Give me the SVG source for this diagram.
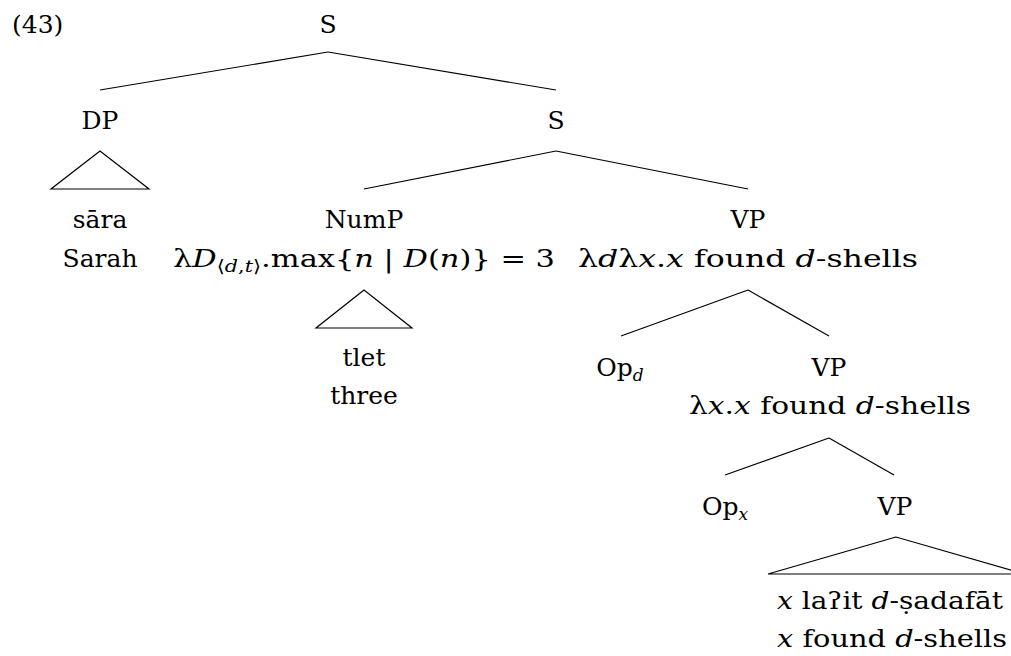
<svg xmlns="http://www.w3.org/2000/svg" width="1011" height="656" viewBox="0 0 1011 656">
<style>
text{font-family:"DejaVu Serif",serif;font-size:25px;fill:#000;text-anchor:middle}
.i{font-style:italic}
.sub{font-size:17px;font-style:italic}
.subu{font-size:17px}
.l{text-anchor:start}
line,polygon{stroke:#000;stroke-width:1.2;fill:none}
</style>
<rect width="1011" height="656" fill="#fff"/>
<g id="connectors">
<line x1="328" y1="52" x2="100" y2="90"/>
<line x1="328" y1="52" x2="556" y2="90"/>
<polygon points="100,151 51,189 149,189"/>
<line x1="556" y1="151" x2="364" y2="189"/>
<line x1="556" y1="151" x2="748" y2="189"/>
<polygon points="364,290 316,328 412,328"/>
<line x1="748" y1="290" x2="621" y2="336"/>
<line x1="748" y1="290" x2="829" y2="336"/>
<line x1="829" y1="438" x2="725" y2="475"/>
<line x1="829" y1="438" x2="894" y2="475"/>
<polygon points="896,537 768,574 1024,574"/>
</g>
<g id="ex-number"><text class="l" x="12" y="33">(43)</text></g>
<g id="node-S-root"><text x="328" y="33">S</text></g>
<g id="node-DP"><text x="100" y="129">DP</text></g>
<g id="node-sara"><text x="100" y="228">sāra</text><text x="100" y="267">Sarah</text></g>
<g id="node-S"><text x="556" y="129">S</text></g>
<g id="node-NumP"><text x="364" y="228">NumP</text>
<text x="364" y="267" textLength="382" lengthAdjust="spacingAndGlyphs">λ<tspan class="i">D</tspan><tspan class="subu" dy="5">⟨<tspan class="i">d</tspan>,<tspan class="i">t</tspan>⟩</tspan><tspan dy="-5">.max{</tspan><tspan class="i">n</tspan> | <tspan class="i">D</tspan>(<tspan class="i">n</tspan>)} = 3</text></g>
<g id="node-tlet"><text x="364" y="366">tlet</text><text x="364" y="404">three</text></g>
<g id="node-VP1"><text x="748" y="228">VP</text>
<text x="748" y="267" textLength="340" lengthAdjust="spacingAndGlyphs">λ<tspan class="i">d</tspan>λ<tspan class="i">x</tspan>.<tspan class="i">x</tspan> found <tspan class="i">d</tspan>-shells</text></g>
<g id="node-Opd"><text x="620" y="376">Op<tspan class="sub" dy="5">d</tspan></text></g>
<g id="node-VP2"><text x="829" y="376">VP</text>
<text x="830" y="414" textLength="282" lengthAdjust="spacingAndGlyphs">λ<tspan class="i">x</tspan>.<tspan class="i">x</tspan> found <tspan class="i">d</tspan>-shells</text></g>
<g id="node-Opx"><text x="725" y="515">Op<tspan class="sub" dy="5">x</tspan></text></g>
<g id="node-VP3"><text x="895" y="515">VP</text>
<text x="890" y="609" textLength="226" lengthAdjust="spacingAndGlyphs"><tspan class="i">x</tspan> laʔit <tspan class="i">d</tspan>-ṣadafāt</text>
<text x="892" y="647" textLength="230" lengthAdjust="spacingAndGlyphs"><tspan class="i">x</tspan> found <tspan class="i">d</tspan>-shells</text></g>
</svg>
